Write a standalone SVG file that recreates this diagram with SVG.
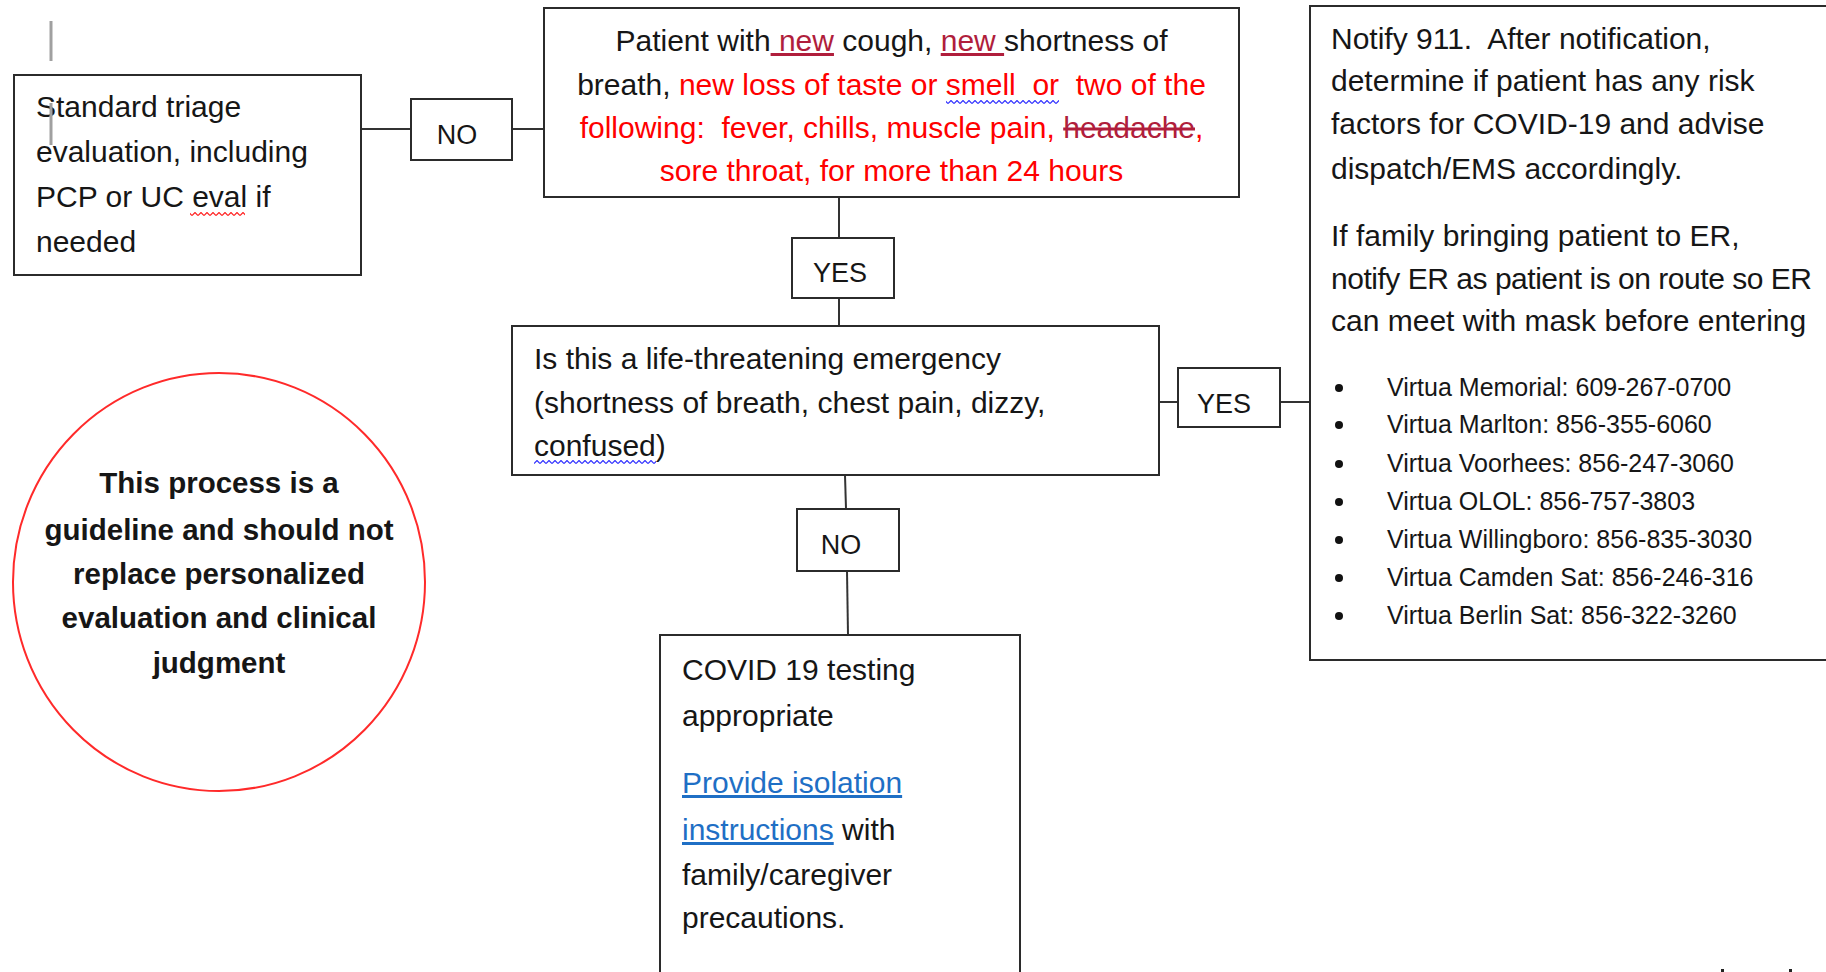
<svg xmlns="http://www.w3.org/2000/svg" width="1826" height="972" viewBox="0 0 1826 972">
<defs>
<style>
.box{fill:#fff;stroke:#2b2b2b;stroke-width:2}
.lbl{fill:#fff;stroke:#2b2b2b;stroke-width:2}
.t{font-family:"Liberation Sans",Arial,sans-serif;font-size:30px;fill:#161616}
.s{font-family:"Liberation Sans",Arial,sans-serif;font-size:25px;fill:#161616}
.b{font-family:"Liberation Sans",Arial,sans-serif;font-size:29.5px;font-weight:bold;fill:#161616}
.lt{font-family:"Liberation Sans",Arial,sans-serif;font-size:27px;fill:#161616}
.red{fill:#ff0000}
.dr{fill:#b01e3c}
.u{text-decoration:underline}
.st{text-decoration:line-through}
.link{fill:#1f6fc5;text-decoration:underline}
.conn line{stroke:#333;stroke-width:2}
.cursor{stroke:#a0a0a0;stroke-width:3}
</style>
<pattern id="wavyRed" width="6" height="4" patternUnits="userSpaceOnUse"><path d="M0 3.5 L3 0.5 L6 3.5" fill="none" stroke="#ff2020" stroke-width="1.2"/></pattern>
<pattern id="wavyBlue" width="6" height="4" patternUnits="userSpaceOnUse"><path d="M0 3.5 L3 0.5 L6 3.5" fill="none" stroke="#3030ff" stroke-width="1.2"/></pattern>
</defs>
<rect width="1826" height="972" fill="#fff"/>

<g id="connectors" class="conn">
<line x1="361" y1="129" x2="411" y2="129"/>
<line x1="512" y1="129" x2="544" y2="129"/>
<line x1="839" y1="197" x2="839" y2="238"/>
<line x1="839" y1="298" x2="839" y2="326"/>
<line x1="1159" y1="402" x2="1178" y2="402"/>
<line x1="1280" y1="402" x2="1310" y2="402"/>
<line x1="845" y1="475" x2="846" y2="509"/>
<line x1="847" y1="571" x2="848" y2="635"/>
</g>

<g id="standard-triage">
<rect class="box" x="14" y="75" width="347" height="200"/>
<text class="t" x="36" y="117">Standard triage</text>
<text class="t" x="36" y="162">evaluation, including</text>
<text class="t" x="36" y="207">PCP or UC eval if</text>
<text class="t" x="36" y="252">needed</text>
<rect x="190" y="212" width="55" height="4" fill="url(#wavyRed)"/>
</g>

<g id="cursor-marks">
<line class="cursor" x1="51" y1="21" x2="51" y2="61"/>
<line class="cursor" x1="51" y1="103" x2="51" y2="145"/>
</g>

<g id="no-label-1">
<rect class="lbl" x="411" y="99" width="101" height="61"/>
<text class="lt" x="457" y="144" text-anchor="middle">NO</text>
</g>

<g id="symptoms">
<rect class="box" x="544" y="8" width="695" height="189"/>
<text class="t" x="891.5" y="51" text-anchor="middle" xml:space="preserve">Patient with<tspan class="dr u"> new</tspan> cough, <tspan class="dr u">new </tspan>shortness of</text>
<text class="t" x="891.5" y="95" text-anchor="middle" xml:space="preserve">breath, <tspan class="red">new loss of taste or smell  or  two of the</tspan></text>
<text class="t red" x="891.5" y="138" text-anchor="middle" xml:space="preserve">following:  fever, chills, muscle pain, <tspan class="dr st">headache</tspan>,</text>
<text class="t red" x="891.5" y="181" text-anchor="middle">sore throat, for more than 24 hours</text>
<rect x="946" y="100" width="113" height="4" fill="url(#wavyBlue)"/>
</g>

<g id="yes-label-1">
<rect class="lbl" x="792" y="238" width="102" height="60"/>
<text class="lt" x="840" y="282" text-anchor="middle">YES</text>
</g>

<g id="life-threatening">
<rect class="box" x="512" y="326" width="647" height="149"/>
<text class="t" x="534" y="369">Is this a life-threatening emergency</text>
<text class="t" x="534" y="413">(shortness of breath, chest pain, dizzy,</text>
<text class="t" x="534" y="456">confused)</text>
<rect x="534" y="460" width="122" height="4" fill="url(#wavyBlue)"/>
</g>

<g id="yes-label-2">
<rect class="lbl" x="1178" y="368" width="102" height="59"/>
<text class="lt" x="1224" y="413" text-anchor="middle">YES</text>
</g>

<g id="notify-911">
<rect class="box" x="1310" y="6" width="540" height="654"/>
<text class="t" x="1331" y="49" xml:space="preserve">Notify 911.  After notification,</text>
<text class="t" x="1331" y="91">determine if patient has any risk</text>
<text class="t" x="1331" y="134">factors for COVID-19 and advise</text>
<text class="t" x="1331" y="179">dispatch/EMS accordingly.</text>
<text class="t" x="1331" y="246">If family bringing patient to ER,</text>
<text class="t" x="1331" y="289" textLength="481">notify ER as patient is on route so ER</text>
<text class="t" x="1331" y="331">can meet with mask before entering</text>
<g fill="#111">
<circle cx="1339" cy="388" r="4"/>
<circle cx="1339" cy="425" r="4"/>
<circle cx="1339" cy="464" r="4"/>
<circle cx="1339" cy="502" r="4"/>
<circle cx="1339" cy="540" r="4"/>
<circle cx="1339" cy="578" r="4"/>
<circle cx="1339" cy="616" r="4"/>
</g>
<text class="s" x="1387" y="396">Virtua Memorial: 609-267-0700</text>
<text class="s" x="1387" y="433">Virtua Marlton: 856-355-6060</text>
<text class="s" x="1387" y="472">Virtua Voorhees: 856-247-3060</text>
<text class="s" x="1387" y="510">Virtua OLOL: 856-757-3803</text>
<text class="s" x="1387" y="548">Virtua Willingboro: 856-835-3030</text>
<text class="s" x="1387" y="586">Virtua Camden Sat: 856-246-316</text>
<text class="s" x="1387" y="624">Virtua Berlin Sat: 856-322-3260</text>
</g>

<g id="no-label-2">
<rect class="lbl" x="797" y="509" width="102" height="62"/>
<text class="lt" x="841" y="554" text-anchor="middle">NO</text>
</g>

<g id="covid-testing">
<rect class="box" x="660" y="635" width="360" height="360"/>
<text class="t" x="682" y="680">COVID 19 testing</text>
<text class="t" x="682" y="726">appropriate</text>
<text class="t link" x="682" y="793">Provide isolation</text>
<text class="t" x="682" y="840"><tspan class="link">instructions</tspan> with</text>
<text class="t" x="682" y="885">family/caregiver</text>
<text class="t" x="682" y="928">precautions.</text>
</g>

<g id="guideline-note">
<ellipse cx="219" cy="582" rx="206" ry="209" fill="none" stroke="#ff2a2a" stroke-width="2"/>
<text class="b" x="219" y="493" text-anchor="middle">This process is a</text>
<text class="b" x="219" y="540" text-anchor="middle">guideline and should not</text>
<text class="b" x="219" y="584" text-anchor="middle">replace personalized</text>
<text class="b" x="219" y="628" text-anchor="middle">evaluation and clinical</text>
<text class="b" x="219" y="673" text-anchor="middle">judgment</text>
</g>

<g id="edge-marks" fill="#222">
<rect x="1721" y="969" width="3" height="3"/>
<rect x="1789" y="969" width="3" height="3"/>
</g>
</svg>
